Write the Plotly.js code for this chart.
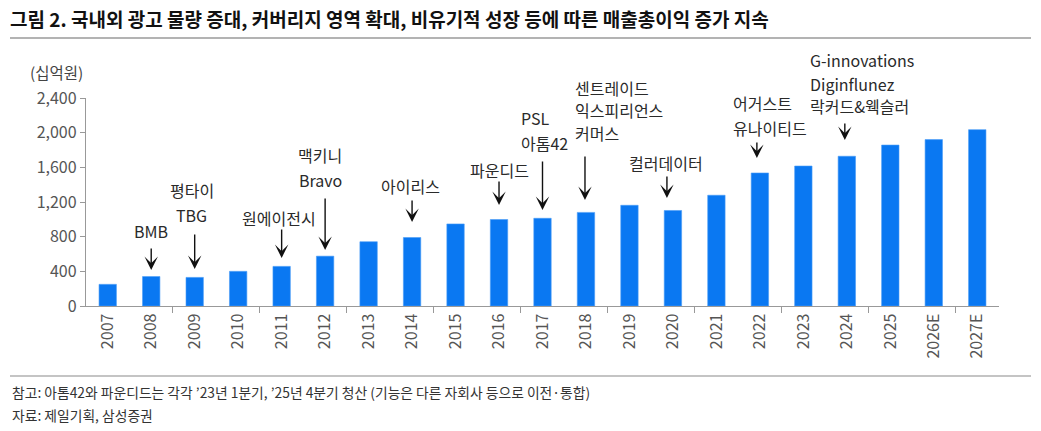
<!DOCTYPE html>
<html>
<head>
<meta charset="utf-8">
<script src="https://cdn.plot.ly/plotly-3.0.1.min.js"></script>
<style>
html,body{margin:0;padding:0;background:#fff;}
#chart{width:1041px;height:431px;}
</style>
</head>
<body>
<div id="chart"></div>
<script>
// ---- data ----
const years = ['2007','2008','2009','2010','2011','2012','2013','2014','2015','2016','2017','2018','2019','2020','2021','2022','2023','2024','2025','2026E','2027E'];
const grossProfit = [250,340,330,400,457,575,742,790,947,998,1012,1080,1162,1102,1278,1535,1615,1728,1857,1920,2035];
const yTicks = [0,400,800,1200,1600,2000,2400];

// acquisitions: category, label lines
const acqYears = ['2008','2009','2011','2012','2014','2016','2017','2018','2020','2022','2024'];
const acqLabels = [
  ['BMB'],
  ['평타이','TBG'],
  ['원에이전시'],
  ['맥키니','Bravo'],
  ['아이리스'],
  ['파운디드'],
  ['PSL','아톰42'],
  ['센트레이드','익스피리언스','커머스'],
  ['컬러데이터'],
  ['어거스트','유나이티드'],
  ['G-innovations','Diginflunez','락커드&웩슬러']
];

const titleText = '그림 2. 국내외 광고 물량 증대, 커버리지 영역 확대, 비유기적 성장 등에 따른 매출총이익 증가 지속';
const unitText = '(십억원)';
const noteText = '참고: 아톰42와 파운디드는 각각 \u201923년 1분기, \u201925년 4분기 청산 (기능은 다른 자회사 등으로 이전·통합)';
const sourceText = '자료: 제일기획, 삼성증권';

// ---- styling / layout helpers ----
const FONT = '"Noto Sans CJK KR", "Noto Sans", sans-serif';
const W = 1041, H = 431;
const M = {l: 86, r: 42, t: 98, b: 125};
const PW = W - M.l - M.r, PH = H - M.t - M.b;
const px = x => (x - M.l) / PW;          // pixel x -> paper
const py = y => (H - M.b - y) / PH;      // pixel y -> paper
const yUnit = 2400 / PH;                  // data units per pixel

// per-annotation placement (pixels): text line centres y, text anchor, x shift, arrow tip y, arrow length
const place = [
  {ys:[231], anchor:'center', dx:0,   tip:270, len:23, adx:0},
  {ys:[190,215], anchor:'center', dx:-3, tip:269, len:36, adx:0},
  {ys:[218], anchor:'center', dx:-3,  tip:258, len:30, adx:0},
  {ys:[155,180], anchor:'center', dx:-5, tip:250, len:53, adx:0},
  {ys:[186], anchor:'center', dx:-2,  tip:222, len:23, adx:0},
  {ys:[170], anchor:'center', dx:0,   tip:205, len:25, adx:0},
  {ys:[118,143], anchor:'left', dx:-24, tip:210, len:50, adx:0},
  {ys:[88,110,133], anchor:'left', dx:-13, tip:200, len:45, adx:-1},
  {ys:[163], anchor:'center', dx:-7,  tip:198, len:23, adx:-6},
  {ys:[103,128], anchor:'left', dx:-29, tip:158, len:17, adx:-3},
  {ys:[60,84,106], anchor:'left', dx:-39, tip:140, len:18, adx:-2}
];

const annotations = [];
acqYears.forEach((yr, i) => {
  const p = place[i];
  const xi = years.indexOf(yr);
  acqLabels[i].forEach((line, j) => {
    annotations.push({
      x: xi, xref: 'x', y: py(p.ys[j]), yref: 'paper',
      text: line, showarrow: false, xanchor: p.anchor, yanchor: 'middle',
      xshift: p.dx, font: {family: FONT, size: 16, color: '#2a2a2a'}
    });
  });
  annotations.push({
    x: xi, xref: 'x', y: (H - M.b - p.tip) * yUnit, yref: 'y',
    text: '', showarrow: true, ax: 0, ay: -p.len, xshift: p.adx,
    arrowhead: 3, arrowsize: 1.6, arrowwidth: 1.4, arrowcolor: '#111', standoff: 0
  });
});

annotations.push({xref:'paper', yref:'paper', x: px(56), y: py(72), text: unitText, showarrow:false,
  xanchor:'center', yanchor:'middle', font:{family:FONT, size:15.5, color:'#444'}});
annotations.push({xref:'paper', yref:'paper', x: px(10), y: py(392), text: noteText, showarrow:false,
  xanchor:'left', yanchor:'middle', font:{family:FONT, size:13.8, color:'#333'}});
annotations.push({xref:'paper', yref:'paper', x: px(10), y: py(415), text: sourceText, showarrow:false,
  xanchor:'left', yanchor:'middle', font:{family:FONT, size:13.8, color:'#333'}});

const shapes = [
  {type:'line', xref:'paper', yref:'paper', x0: px(10), x1: px(1031), y0: py(38), y1: py(38), line:{color:'#9a9a9a', width:1.5}},
  {type:'line', xref:'paper', yref:'paper', x0: px(10), x1: px(1031), y0: py(376), y1: py(376), line:{color:'#b0b0b0', width:1.5}}
];

// boundary ticks every second category
const bTicks = [];
for (let k = 1.5; k < years.length - 0.5; k += 2) bTicks.push(k);

const traces = [{
  type: 'bar', x: years, y: grossProfit,
  marker: {color: '#0a78f2', line: {color: '#4a9cf7', width: 0.6}},
  hoverinfo: 'x+y'
}];

const layout = {
  width: W, height: H,
  margin: M,
  paper_bgcolor: '#fff', plot_bgcolor: '#fff',
  showlegend: false,
  bargap: 0.6,
  title: {text: '<b>' + titleText + '</b>', x: 10 / W, xanchor: 'left', xref: 'container',
          y: 1 - 20 / H, yanchor: 'middle', yref: 'container',
          font: {family: FONT, size: 19, color: '#111'}},
  xaxis: {type: 'category', tickangle: -90, ticks: '', showline: true, linecolor: '#999', linewidth: 1.2,
          tickfont: {family: FONT, size: 16, color: '#555'}, showgrid: false, zeroline: false,
          range: [-0.5, years.length - 0.5], fixedrange: true},
  xaxis2: {overlaying: 'x', anchor: 'y', side: 'bottom', range: [-0.5, years.length - 0.5],
           tickmode: 'array', tickvals: bTicks, ticks: 'outside', ticklen: 6, tickcolor: '#999',
           tickwidth: 1, showticklabels: false, showgrid: false, zeroline: false, showline: false},
  yaxis: {range: [0, 2400], tickmode: 'array', tickvals: yTicks, tickformat: ',d',
          ticks: 'outside', ticklen: 5, tickcolor: '#999', showline: true, linecolor: '#999', linewidth: 1.2,
          showgrid: false, zeroline: false, tickfont: {family: FONT, size: 16, color: '#555'}},
  annotations: annotations,
  shapes: shapes
};

Plotly.newPlot('chart', traces.concat([{type:'scatter', x:[], y:[], xaxis:'x2', yaxis:'y', hoverinfo:'skip', showlegend:false}]), layout, {staticPlot: true, displayModeBar: false});
</script>
</body>
</html>
